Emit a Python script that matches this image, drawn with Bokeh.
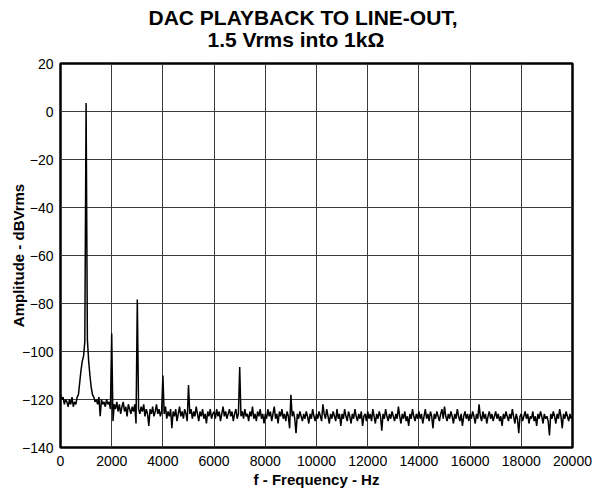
from bokeh.plotting import figure
from bokeh.models import FixedTicker, ColumnDataSource, Title
from bokeh.embed import file_html
from bokeh.resources import INLINE

# FFT bin spacing of the measured spectrum (Hz)
BIN_HZ = 50

# Amplitude (dBVrms) per 50 Hz bin, one row per 1 kHz
amp_00k = [-118, -120, -119, -122, -120, -121, -123, -120, -122, -119,
           -123, -121, -122, -119, -118, -113, -108, -104, -102, -96]
amp_01k = [3.5, -95, -104, -110, -115, -118, -119, -121, -120, -122,
           -119, -127, -120, -122, -121, -123, -120, -122, -121, -124]
amp_02k = [-92.5, -129, -122, -124, -121, -125, -122, -126, -123, -121,
           -125, -123, -127, -122, -124, -126, -123, -125, -122, -130]
amp_03k = [-78.3, -124, -126, -123, -125, -122, -127, -124, -126, -131,
           -124, -126, -123, -127, -125, -122, -126, -124, -127, -125]
amp_04k = [-110, -126, -123, -128, -125, -127, -124, -132, -125, -127,
           -124, -129, -126, -123, -127, -125, -128, -124, -126, -129]
amp_05k = [-114, -126, -124, -128, -125, -127, -123, -126, -129, -125,
           -127, -124, -128, -126, -130, -125, -127, -124, -128, -126]
amp_06k = [-125, -128, -124, -127, -125, -129, -126, -123, -127, -125,
           -128, -126, -124, -127, -125, -129, -126, -124, -128, -126]
amp_07k = [-106.5, -127, -125, -128, -124, -127, -126, -129, -125, -127,
           -123, -128, -126, -129, -125, -127, -124, -128, -126, -130]
amp_08k = [-126, -128, -124, -127, -125, -129, -126, -123, -128, -126,
           -130, -125, -127, -124, -128, -126, -129, -125, -127, -132]
amp_09k = [-118, -127, -125, -128, -134, -126, -128, -125, -127, -129,
           -126, -128, -125, -127, -130, -126, -128, -124, -127, -129]
amp_10k = [-126, -128, -125, -127, -129, -122, -126, -128, -124, -127,
           -130, -126, -128, -125, -127, -129, -124, -128, -126, -131]
amp_11k = [-126, -128, -124, -127, -129, -125, -127, -130, -126, -128,
           -124, -127, -129, -126, -128, -125, -131, -127, -126, -129]
amp_12k = [-125, -128, -126, -129, -124, -127, -130, -126, -128, -125,
           -127, -133, -126, -128, -124, -127, -129, -126, -128, -125]
amp_13k = [-127, -129, -126, -128, -123, -127, -130, -126, -128, -125,
           -129, -127, -131, -126, -128, -124, -127, -129, -126, -128]
amp_14k = [-125, -128, -126, -130, -127, -124, -128, -126, -129, -125,
           -127, -132, -126, -128, -125, -127, -129, -126, -124, -128]
amp_15k = [-123, -127, -129, -126, -128, -125, -127, -130, -126, -128,
           -124, -127, -129, -126, -131, -127, -125, -128, -126, -129]
amp_16k = [-126, -128, -125, -127, -130, -126, -128, -122, -127, -129,
           -125, -128, -126, -130, -127, -125, -128, -126, -129, -127]
amp_17k = [-125, -128, -126, -129, -127, -131, -126, -128, -125, -127,
           -129, -126, -128, -124, -127, -130, -126, -128, -134, -127]
amp_18k = [-126, -129, -127, -125, -128, -126, -130, -127, -128, -125,
           -129, -127, -131, -126, -128, -125, -127, -130, -126, -128]
amp_19k = [-127, -129, -135, -126, -128, -125, -127, -130, -126, -128,
           -124, -127, -132, -126, -128, -125, -127, -129, -126, -128]
amp_20k = [-127]

amplitude_dbv = (amp_00k + amp_01k + amp_02k + amp_03k + amp_04k + amp_05k
                 + amp_06k + amp_07k + amp_08k + amp_09k + amp_10k + amp_11k
                 + amp_12k + amp_13k + amp_14k + amp_15k + amp_16k + amp_17k
                 + amp_18k + amp_19k + amp_20k)
freq_hz = [i * BIN_HZ for i in range(len(amplitude_dbv))]

x_ticks = [0, 2000, 4000, 6000, 8000, 10000, 12000, 14000, 16000, 18000, 20000]
y_ticks = [-140, -120, -100, -80, -60, -40, -20, 0, 20]

title_line1 = "DAC PLAYBACK TO LINE-OUT,"
title_line2 = "1.5 Vrms into 1k\u03a9"
x_label = "f - Frequency - Hz"
y_label = "Amplitude - dBVrms"

FONT = "Liberation Sans"

p = figure(width=597, height=491, x_range=(0, 20000), y_range=(-140, 20),
           output_backend="svg", toolbar_location=None, title=None,
           min_border_left=60, min_border_right=25, min_border_top=63,
           min_border_bottom=44)

xax = p.below[0]
yax = p.left[0]

t2 = Title(text=title_line2, align="left", vertical_align="top",
           text_font=FONT, text_font_size="21px", text_font_style="bold",
           text_color="black", standoff=21, offset=147)
t1 = Title(text=title_line1, align="left", vertical_align="bottom",
           text_font=FONT, text_font_size="21px", text_font_style="bold",
           text_color="black", standoff=-22, offset=88)
p.add_layout(t2, "above")
p.add_layout(t1, "above")

src = ColumnDataSource(dict(f=freq_hz, a=amplitude_dbv))
p.line("f", "a", source=src, line_color="black", line_width=1.5)

xax.ticker = FixedTicker(ticks=x_ticks)
yax.ticker = FixedTicker(ticks=y_ticks)
p.xgrid.ticker = FixedTicker(ticks=x_ticks)
p.ygrid.ticker = FixedTicker(ticks=y_ticks)

for ax in (xax, yax):
    ax.axis_line_color = None
    ax.major_tick_line_color = None
    ax.minor_tick_line_color = None
    ax.major_tick_out = 0
    ax.major_tick_in = 0
    ax.minor_tick_out = 0
    ax.minor_tick_in = 0
    ax.major_label_text_font = FONT
    ax.major_label_text_font_size = "14px"
    ax.major_label_text_color = "black"
    ax.axis_label_text_font = FONT
    ax.axis_label_text_font_size = "15px"
    ax.axis_label_text_font_style = "bold"
    ax.axis_label_text_color = "black"

xax.axis_label = x_label
yax.axis_label = y_label
xax.major_label_standoff = 8
xax.axis_label_standoff = 2
yax.major_label_standoff = 7
yax.axis_label_standoff = -8

p.xgrid.grid_line_color = "#3a3a3a"
p.ygrid.grid_line_color = "#3a3a3a"
p.xgrid.grid_line_width = 1
p.ygrid.grid_line_width = 1

p.outline_line_color = "black"
p.outline_line_width = 2.5
p.background_fill_color = "white"
p.border_fill_color = "white"

open("out.html", "w").write(file_html(p, INLINE))
